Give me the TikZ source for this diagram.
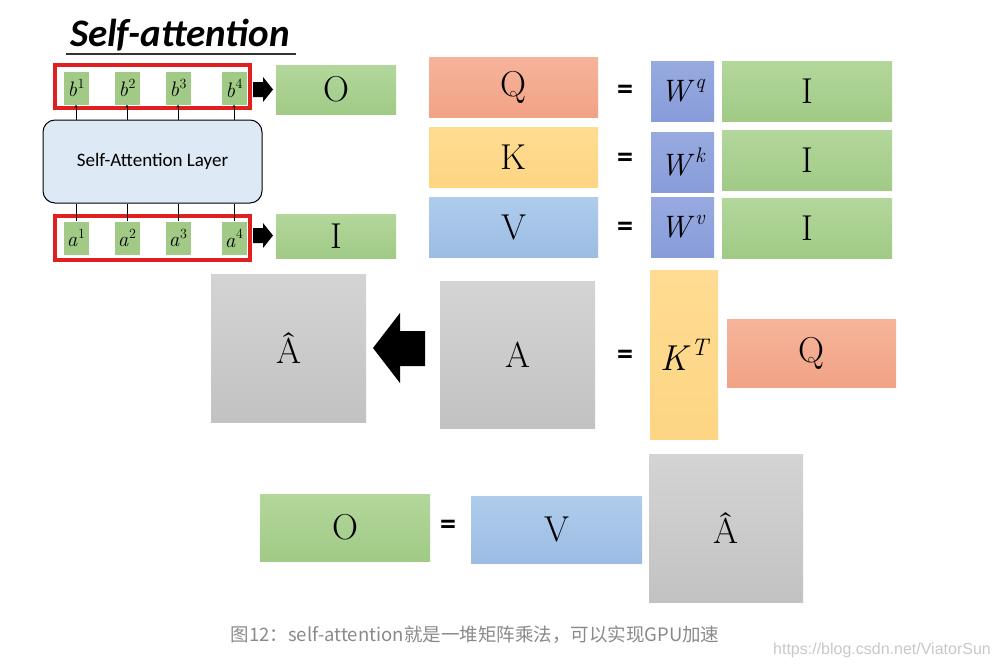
\documentclass[tikz,border=0pt]{standalone}
\usepackage{fontspec}
\usetikzlibrary{arrows.meta}
\newfontfamily\calibri{Carlito}
\newfontfamily\cjk{Noto Sans CJK SC}
\newfontfamily\webfont{Liberation Sans}
% italic base with a raised index, all in scalable text fonts
\newcommand\supvar[3]{\textit{#1}\kern0.5pt\raisebox{0.42em}{\fontsize{#3}{#3}\selectfont\itshape #2}}
\definecolor{grnT}{HTML}{B3D79B}
\definecolor{grnB}{HTML}{A0CA86}
\definecolor{salT}{HTML}{F5B49A}
\definecolor{salB}{HTML}{F2A285}
\definecolor{yelT}{HTML}{FFDC93}
\definecolor{yelB}{HTML}{FDD583}
\definecolor{bluT}{HTML}{AFCCEC}
\definecolor{bluB}{HTML}{9CBCE3}
\definecolor{wT}{HTML}{97AAE0}
\definecolor{wB}{HTML}{889CDA}
\definecolor{gryT}{HTML}{D4D4D4}
\definecolor{gryB}{HTML}{C2C2C2}
\definecolor{layerfill}{HTML}{DDE9F5}
\definecolor{framered}{HTML}{E02020}
\definecolor{captiongray}{HTML}{8A8A8A}
\definecolor{markgray}{HTML}{C8C8C8}
\tikzset{
  wh/.style 2 args={minimum width=#1, minimum height=#2},
  mat/.style={inner sep=0pt, outer sep=0pt, font=\fontsize{36}{36}\selectfont},
  greenmat/.style={mat, top color=grnT, bottom color=grnB},
  salmat/.style={mat, top color=salT, bottom color=salB},
  yelmat/.style={mat, top color=yelT, bottom color=yelB},
  blumat/.style={mat, top color=bluT, bottom color=bluB},
  wmat/.style={mat, top color=wT, bottom color=wB, font=\fontsize{31}{31}\selectfont},
  grymat/.style={mat, top color=gryT, bottom color=gryB},
  vec/.style={inner sep=0pt, wh={25}{33}, fill=grnB, font=\fontsize{21}{21}\selectfont},
  redframe/.style={draw=framered, line width=4pt, inner sep=0pt},
  eqsign/.style={inner sep=0pt, font=\calibri\bfseries\fontsize{32}{32}\selectfont}
}
\begin{document}
\begin{tikzpicture}[x=1pt, y=-1pt]
  \fill[white] (0,0) rectangle (997,667);
  \useasboundingbox (0,0) rectangle (997,667);
  % title
  \node[inner sep=0pt, font=\calibri\bfseries\itshape\fontsize{39}{39}\selectfont] (title) at (180,35) {Self-attention};
  \draw[line width=1.5pt, black!80] (66,54) -- (296,54);
  % self-attention layer
  \node[draw, line width=1pt, rounded corners=12pt, fill=layerfill, wh={219}{83},
        font=\calibri\fontsize{19}{19}\selectfont] (layer) at (152.5,161.5) {Self-Attention Layer};
  \node[redframe, wh={195}{43}] (bframe) at (152.5,86.5) {};
  \node[redframe, wh={195}{44}] (aframe) at (152.5,238) {};
  \node[vec] (b1) at (76,88) {\supvar{b}{\upshape 1}{14}};
  \node[vec] (b2) at (127,88) {\supvar{b}{\upshape 2}{14}};
  \node[vec] (b3) at (178,88) {\supvar{b}{\upshape 3}{14}};
  \node[vec] (b4) at (234,88) {\supvar{b}{\upshape 4}{14}};
  \node[vec] (a1) at (76,238) {\supvar{a}{\upshape 1}{14}};
  \node[vec] (a2) at (127,238) {\supvar{a}{\upshape 2}{14}};
  \node[vec] (a3) at (178,238) {\supvar{a}{\upshape 3}{14}};
  \node[vec] (a4) at (234,238) {\supvar{a}{\upshape 4}{14}};
  \begin{scope}[line width=0.8pt]
    \foreach \i in {1,2,3,4} {
      \draw[-{Stealth[length=3pt,width=3pt]}] (layer.north -| b\i) -- (b\i.south);
      \draw (a\i.north) -- (layer.south -| a\i);
    }
  \end{scope}
  \node[greenmat, wh={120}{49}] (out) at (336,89.5) {O};
  \node[greenmat, wh={120}{44}] (in) at (336,236) {I};
  \fill (253,82) -- (263,82) -- (263,77) -- (273,89.5) -- (263,102) -- (263,97) -- (253,97) -- cycle;
  \fill (253,228) -- (263,228) -- (263,223) -- (273,235.5) -- (263,248) -- (263,243) -- (253,243) -- cycle;
  % Q, K, V
  \node[salmat, wh={169}{60}] (q) at (513.5,87) {Q};
  \node[eqsign] (eq1) at (625,92) {=};
  \node[wmat, wh={63}{60}] (wq) at (682.5,91) {\supvar{W}{q}{21}};
  \node[greenmat, wh={170}{60}] (iq) at (807,91) {I};
  \node[yelmat, wh={169}{60}] (k) at (513.5,157) {K};
  \node[eqsign] (eq2) at (625,160) {=};
  \node[wmat, wh={63}{60}] (wk) at (682.5,162) {\supvar{W}{k}{21}};
  \node[greenmat, wh={170}{60}] (ik) at (807,160) {I};
  \node[blumat, wh={169}{60}] (v) at (513.5,227) {V};
  \node[eqsign] (eq3) at (625,229) {=};
  \node[wmat, wh={63}{60}] (wv) at (682.5,227) {\supvar{W}{v}{21}};
  \node[greenmat, wh={170}{60}] (iv) at (807,228) {I};
  % attention matrix
  \node[grymat, wh={155}{148}] (ahat) at (288.5,348) {\^{A}};
  \node[grymat, wh={155}{147}] (att) at (517.5,354.5) {A};
  \fill (425,331) -- (400,331) -- (400,313) -- (373,348) -- (400,383) -- (400,366) -- (425,366) -- cycle;
  \node[eqsign] (eq4) at (625,357) {=};
  \node[yelmat, wh={68}{169}] (kt) at (684,354.5) {\supvar{K}{T}{24}};
  \node[salmat, wh={169}{68}] (q2) at (811.5,353) {Q};
  % output
  \node[greenmat, wh={170}{67}] (out2) at (345,527.5) {O};
  \node[eqsign] (eq5) at (448,527) {=};
  \node[blumat, wh={171}{67}] (v2) at (556.5,529.5) {V};
  \node[grymat, wh={154}{148}] (ahat2) at (726,528) {\^{A}};
  % caption
  \node[inner sep=0pt, text=captiongray, font=\cjk\fontsize{18.5}{18.5}\selectfont] (caption) at (475,635)
    {图12：self-attention就是一堆矩阵乘法，可以实现GPU加速};
  \node[inner sep=0pt, anchor=east, text=markgray, font=\webfont\fontsize{16}{16}\selectfont] (mark) at (991,650)
    {https://blog.csdn.net/ViatorSun};
\end{tikzpicture}
\end{document}
